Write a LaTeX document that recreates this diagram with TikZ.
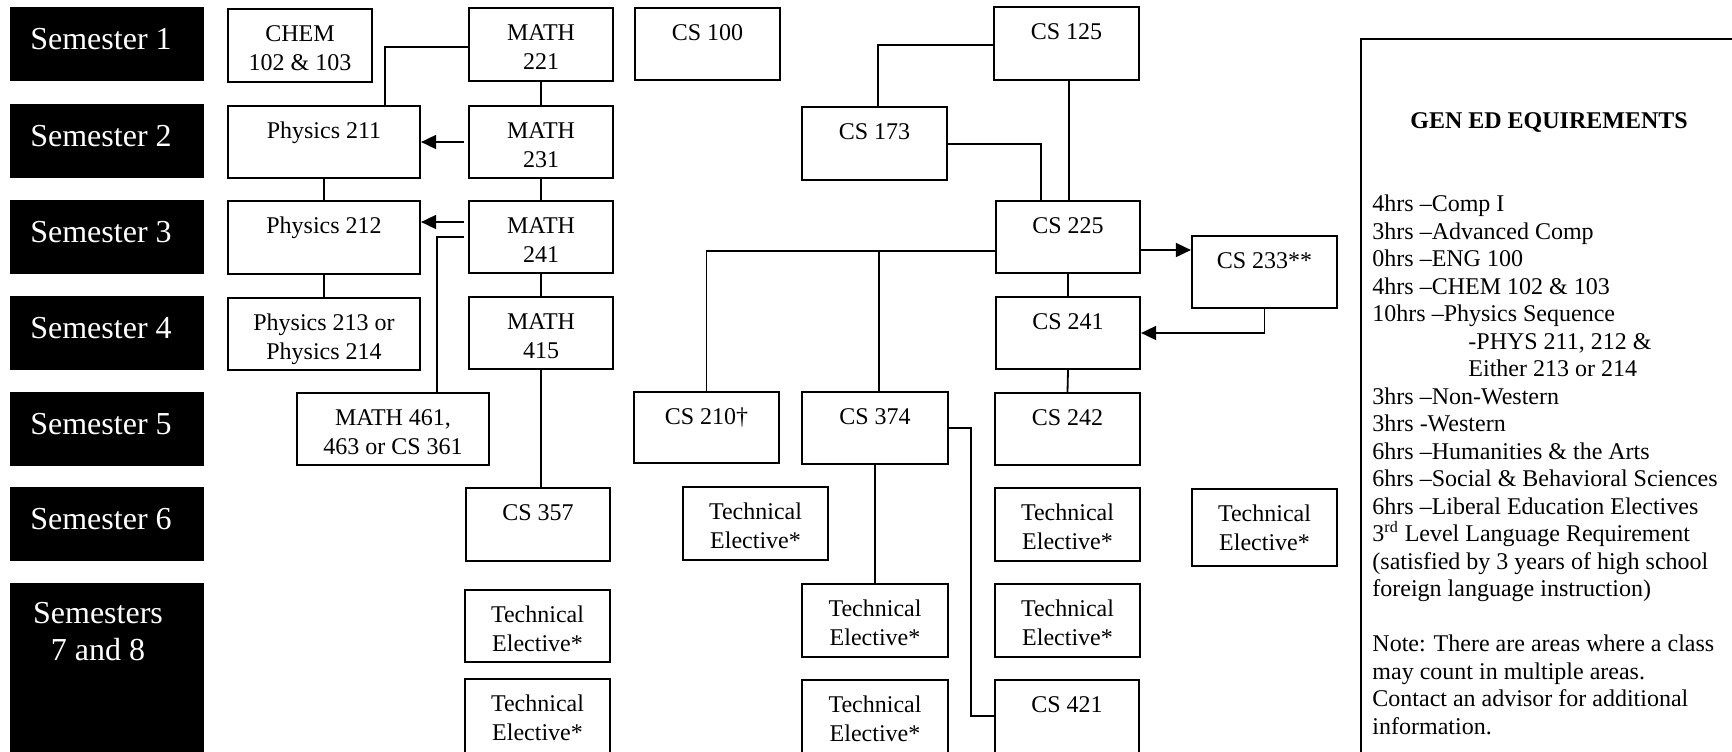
\documentclass[tikz,border=0pt]{standalone}
\usepackage{fontspec}
\setmainfont{Liberation Serif}
\usetikzlibrary{arrows.meta}
\tikzset{
  cbox/.style={draw, line width=1.1pt, inner sep=0pt},
  ctext/.style={anchor=north, inner sep=0pt, align=center, font=\fontsize{12}{14.5}\selectfont},
  semb/.style={fill=black, draw=none, inner sep=0pt},
  semt/.style={text=white, inner sep=0pt, font=\fontsize{16}{18.5}\selectfont},
  conn/.style={line width=0.9pt},
  arr/.style={conn, -{Triangle[length=7.5pt,width=7pt]}},
}
\newcommand\mkcourse[6]{%
  \node[cbox, minimum width={(#4-#2)*0.5pt}, minimum height={(#5-#3)*0.5pt}] (#1) at ({(#2+#4)/2},{(#3+#5)/2}) {};
  \node[ctext] at ([yshift=-6.35pt]#1.north) {\strut #6};
}
\newcommand\mksem[4]{%
  \node[semb, minimum width=97pt, minimum height={(#3-#2)*0.5pt}] (#1) at (107,{(#2+#3)/2}) {};
  \node[semt, anchor=base] at (101,{#2+42}) {#4};
}
\begin{document}
\begin{tikzpicture}[x=0.5pt, y=-0.5pt]
\path[use as bounding box, clip] (0,0) rectangle (1732,751);

% semester labels
\mksem{sem1}{7}{81}{Semester 1}
\mksem{sem2}{104}{178}{Semester 2}
\mksem{sem3}{200}{274}{Semester 3}
\mksem{sem4}{296}{370}{Semester 4}
\mksem{sem5}{392}{466}{Semester 5}
\mksem{sem6}{487}{561}{Semester 6}
\node[semb, minimum width=97pt, minimum height={(790-583)*0.5pt}] (sem78) at (107,{(583+790)/2}) {};
\node[semt, align=center, anchor=north] at (98,597) {\strut Semesters\\7 and 8};

% courses
\mkcourse{chem}{228}{9}{372}{82}{CHEM\\102 \& 103}
\mkcourse{math221}{469}{8}{613}{81}{MATH\\221}
\mkcourse{cs100}{635}{8}{780}{80}{CS 100}
\mkcourse{cs125}{994}{7}{1139}{80}{CS 125}
\mkcourse{phys211}{228}{106}{420}{178}{Physics 211}
\mkcourse{math231}{469}{106}{613}{178}{MATH\\231}
\mkcourse{cs173}{802}{107}{947}{180}{CS 173}
\mkcourse{phys212}{228}{201}{420}{274}{Physics 212}
\mkcourse{math241}{469}{201}{613}{273}{MATH\\241}
\mkcourse{cs225}{996}{201}{1140}{273}{CS 225}
\mkcourse{cs233}{1192}{236}{1337}{308}{CS 233**}
\mkcourse{phys213}{228}{298}{420}{370}{Physics 213 or\\Physics 214}
\mkcourse{math415}{469}{297}{613}{369}{MATH\\415}
\mkcourse{cs241}{996}{297}{1140}{369}{CS 241}
\mkcourse{math461}{297}{393}{489}{465}{MATH 461,\\463 or CS 361}
\mkcourse{cs210}{634}{392}{779}{463}{CS 210†}
\mkcourse{cs374}{802}{392}{948}{464}{CS 374}
\mkcourse{cs242}{995}{393}{1140}{465}{CS 242}
\mkcourse{cs357}{466}{488}{610}{561}{CS 357}
\mkcourse{tea}{683}{487}{828}{560}{Technical\\Elective*}
\mkcourse{teb}{995}{488}{1140}{561}{Technical\\Elective*}
\mkcourse{tec}{1192}{489}{1337}{566}{Technical\\Elective*}
\mkcourse{ted}{465}{590}{610}{662}{Technical\\Elective*}
\mkcourse{tee}{802}{584}{948}{657}{Technical\\Elective*}
\mkcourse{tef}{995}{584}{1140}{657}{Technical\\Elective*}
\mkcourse{teg}{465}{679}{610}{790}{Technical\\Elective*}
\mkcourse{teh}{802}{680}{948}{790}{Technical\\Elective*}
\mkcourse{cs421}{995}{680}{1139}{790}{CS 421}

% connectors: math / physics
\draw[conn] (math221.west |- 0,47) -| (phys211.north -| 385,0);
\draw[arr, shorten <=2pt] (math231.west |- 0,142) -- (phys211.east |- 0,142);
\draw[arr, shorten <=2pt] (math241.west |- 0,222) -- (phys212.east |- 0,222);
\draw[conn, shorten <=2pt] (math241.west |- 0,237) -| (math461.north -| 437,0);
\draw[conn] (math221.south) -- (math231.north);
\draw[conn] (math231.south) -- (math241.north);
\draw[conn] (math241.south) -- (math415.north);
\draw[conn] (math415.south) -- (math415.south |- cs357.north);
\draw[conn] (phys211.south) -- (phys212.north);
\draw[conn] (phys212.south) -- (phys213.north);

% connectors: cs
\draw[conn] (cs125.west |- 0,45) -| (cs173.north -| 878,0);
\draw[conn] (cs173.east |- 0,144) -| (cs225.north -| 1041,0);
\draw[conn] (cs125.south -| 1069,0) -- (cs225.north -| 1069,0);
\draw[arr] (cs225.east |- 0,250) -- (cs233.west |- 0,250);
\draw[arr] (cs233.south) |- (cs241.east);
\draw[conn] (cs225.south) -- (cs241.north);
\draw[conn] (cs241.south) -- (cs242.north);
\draw[conn] (cs225.west |- 0,251) -| (cs210.north);
\draw[conn] (879,251) -- (cs374.north -| 879,0);
\draw[conn] (cs374.south) -- (tee.north);
\draw[conn] (cs374.east |- 0,428) -| (971,716) -- (cs421.west |- 0,716);

% gen ed box
\node[draw, line width=1.1pt, inner sep=0pt, minimum width={(1780-1361)*0.5pt}, minimum height={(800-39)*0.5pt}] (gened) at ({(1361+1780)/2},{(39+800)/2}) {};
\node[anchor=base, inner sep=0pt, font=\bfseries\fontsize{12}{14}\selectfont] (gtitle) at (1549,128) {GEN ED EQUIREMENTS};
\node[anchor=north west, inner sep=0pt, align=left, font=\fontsize{12}{13.75}\selectfont] (glist) at (1372,192) {\strut 4hrs –Comp I\\
3hrs –Advanced Comp\\
0hrs –ENG 100\\
4hrs –CHEM 102 \& 103\\
10hrs –Physics Sequence\\
\hspace*{48pt}-PHYS 211, 212 \&\\
\hspace*{48pt}Either 213 or 214\\
3hrs –Non-Western\\
3hrs -Western\\
6hrs –Humanities \& the Arts\\
6hrs –Social \& Behavioral Sciences\\
6hrs –Liberal Education Electives\\
3\textsuperscript{rd} Level Language Requirement\\
(satisfied by 3 years of high school\\
foreign language instruction)\\[13.75pt]
Note: There are areas where a class\\
may count in multiple areas.\\
Contact an advisor for additional\\
information.};
\end{tikzpicture}
\end{document}
